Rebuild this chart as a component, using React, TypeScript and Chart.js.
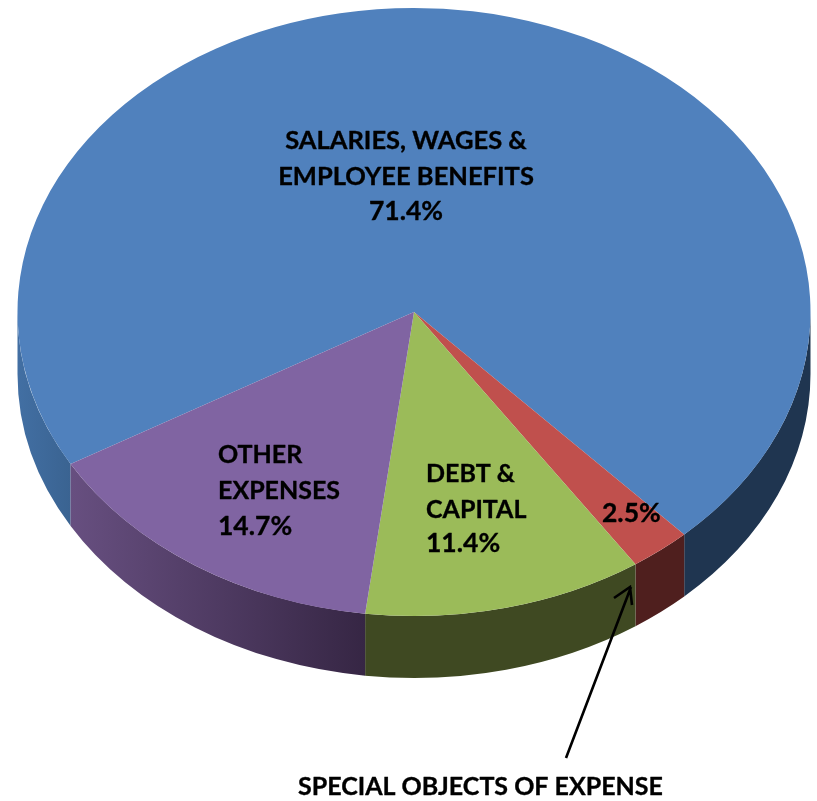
import React, { useEffect, useRef } from "react";
import { Chart, registerables } from "chart.js";

Chart.register(...registerables);

const categories = [
  "SALARIES, WAGES & EMPLOYEE BENEFITS",
  "SPECIAL OBJECTS OF EXPENSE",
  "DEBT & CAPITAL",
  "OTHER EXPENSES",
];
const values = [71.4, 2.5, 11.4, 14.7];
const faceColors = ["#5081bd", "#c0504d", "#9bbb59", "#8064a2"];
const wallStops: [number, string][][] = [
  [[18, "#426fa3"], [71, "#3a6391"], [72, "#1f3550"], [811, "#1f3550"]],
  [[636, "#4f1f1e"], [685, "#4f1f1e"]],
  [[366, "#3f4922"], [636, "#3f4922"]],
  [[71, "#674f80"], [366, "#362644"]],
];

const CX = 414;
const CY = 312;
const RX = 396.5;
const RY = 304;
const DEPTH = 62;

const labelBlocks: { align: CanvasTextAlign; x: number; size: number; lines: [string, number, number?][] }[] = [
  { align: "center", x: 406, size: 25.5, lines: [["SALARIES, WAGES &", 149], ["EMPLOYEE BENEFITS", 185], ["71.4%", 220, 26.5]] },
  { align: "left", x: 218, size: 25, lines: [["OTHER", 463], ["EXPENSES", 499], ["14.7%", 535, 26.5]] },
  { align: "left", x: 426, size: 25, lines: [["DEBT &", 482], ["CAPITAL", 518], ["11.4%", 552, 26.5]] },
  { align: "left", x: 602, size: 26.5, lines: [["2.5%", 522]] },
  { align: "left", x: 298, size: 25, lines: [["SPECIAL OBJECTS OF EXPENSE", 795]] },
];

const pie3d = {
  id: "pie3d",
  beforeDatasetsDraw(chart: any) {
    const ctx: CanvasRenderingContext2D = chart.ctx;
    const arcs = chart.getDatasetMeta(0).data;
    arcs.forEach((arc: any, i: number) => {
      const stops = wallStops[i];
      const x0 = stops[0][0];
      const x1 = stops[stops.length - 1][0];
      const g = ctx.createLinearGradient(x0, 0, x1, 0);
      stops.forEach(([x, c]) => g.addColorStop((x - x0) / (x1 - x0), c));
      for (const off of [0, Math.PI * 2]) {
        const a = Math.max(arc.startAngle, off);
        const b = Math.min(arc.endAngle, off + Math.PI);
        if (a >= b) continue;
        ctx.beginPath();
        ctx.ellipse(CX, CY, RX, RY, 0, a, b);
        ctx.ellipse(CX, CY + DEPTH, RX, RY, 0, b, a, true);
        ctx.closePath();
        ctx.fillStyle = g;
        ctx.fill();
      }
    });
    const first = arcs[0];
    ctx.save();
    ctx.translate(CX, CY);
    ctx.scale(RX / first.outerRadius, RY / first.outerRadius);
    ctx.translate(-first.x, -first.y);
  },
  afterDatasetsDraw(chart: any) {
    chart.ctx.restore();
  },
  afterDraw(chart: any) {
    const ctx: CanvasRenderingContext2D = chart.ctx;
    ctx.save();
    ctx.fillStyle = "#000";
    ctx.strokeStyle = "#000";
    ctx.lineWidth = 0.35;
    ctx.lineJoin = "round";
    ctx.textBaseline = "alphabetic";
    labelBlocks.forEach((b) => {
      ctx.textAlign = b.align;
      b.lines.forEach(([t, y, s]) => {
        ctx.font = `bold ${s ?? b.size}px Lato`;
        ctx.fillText(t, b.x, y);
        ctx.strokeText(t, b.x, y);
      });
    });
    ctx.lineWidth = 2.6;
    ctx.lineJoin = "miter";
    ctx.beginPath();
    ctx.moveTo(566, 758);
    ctx.lineTo(631, 587);
    ctx.moveTo(614, 598);
    ctx.lineTo(630, 587);
    ctx.lineTo(632, 605);
    ctx.stroke();
    ctx.restore();
  },
};

export default function App() {
  const ref = useRef<HTMLCanvasElement>(null);
  useEffect(() => {
    const chart = new Chart(ref.current!, {
      type: "pie",
      data: {
        labels: categories,
        datasets: [
          {
            data: values,
            backgroundColor: faceColors,
            borderWidth: 0,
            clip: false,
          } as any,
        ],
      },
      options: {
        responsive: false,
        animation: false,
        rotation: 240,
        radius: 396.5,
        plugins: { legend: { display: false }, tooltip: { enabled: false }, title: { display: false } },
      } as any,
      plugins: [pie3d],
    });
    return () => chart.destroy();
  }, []);
  return (
    <div style={{ position: "absolute", left: 0, top: 0, width: 817, height: 801, background: "#fff" }}>
      <canvas ref={ref} width={817} height={801} style={{ display: "block" }} />
    </div>
  );
}
